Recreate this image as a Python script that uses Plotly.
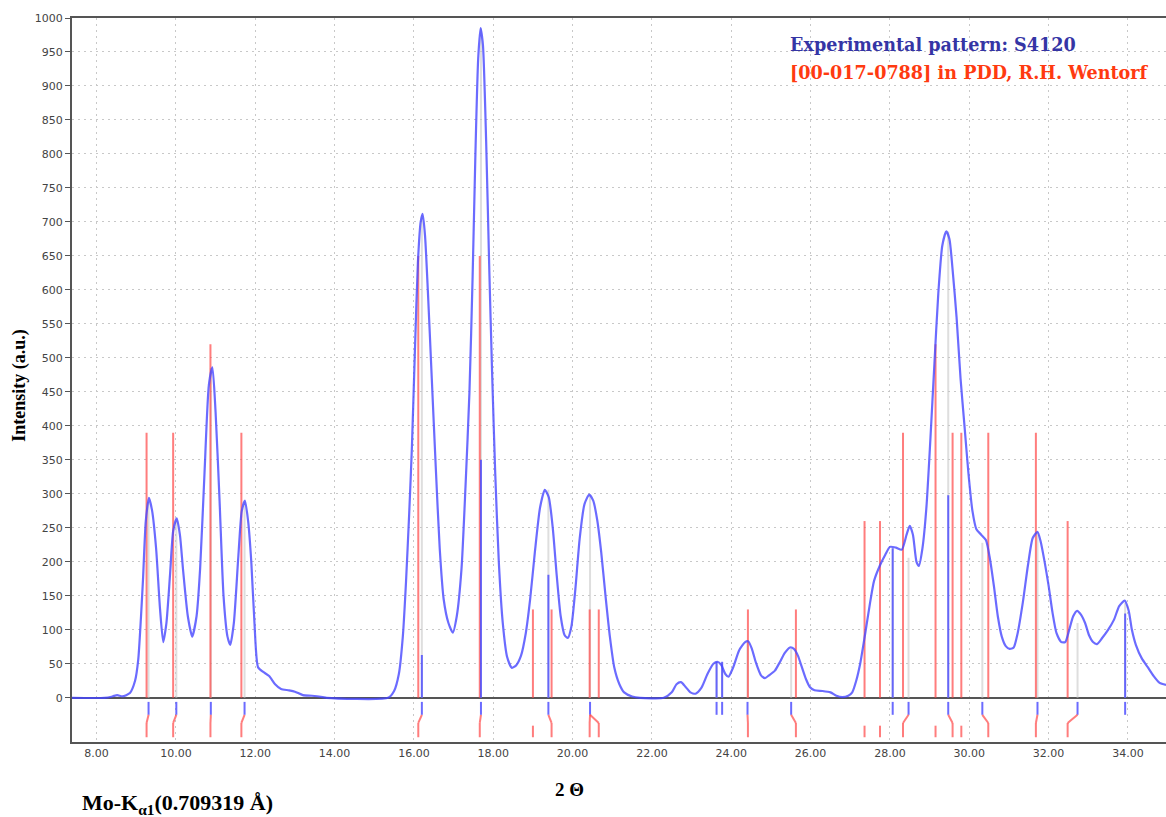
import plotly.graph_objects as go

# ---- experimental pattern (2-theta, intensity) ----
two_theta = [7.38, 8.2, 8.4, 8.52, 8.65, 8.84, 8.97, 9.05, 9.12, 9.17, 9.24, 9.32, 9.4, 9.5, 9.6, 9.68,
             9.76, 9.85, 9.93, 10.02, 10.1, 10.18, 10.3, 10.41, 10.52, 10.61, 10.72, 10.83, 10.92, 11.0,
             11.1, 11.2, 11.3, 11.37, 11.46, 11.57, 11.66, 11.74, 11.82, 11.9, 11.98, 12.07, 12.2, 12.35,
             12.5, 12.65, 12.85, 13.0, 13.2, 13.43, 13.7, 13.8, 15.35, 15.5, 15.62, 15.72, 15.8, 15.88,
             15.95, 16.03, 16.1, 16.17, 16.22, 16.28, 16.35, 16.45, 16.55, 16.65, 16.75, 16.87, 16.98,
             17.08, 17.2, 17.3, 17.4, 17.48, 17.55, 17.62, 17.68, 17.74, 17.82, 17.9, 17.97, 18.05, 18.14,
             18.24, 18.35, 18.47, 18.58, 18.7, 18.82, 18.93, 19.05, 19.18, 19.3, 19.4, 19.5, 19.6, 19.7,
             19.8, 19.88, 19.97, 20.07, 20.18, 20.3, 20.42, 20.52, 20.62, 20.72, 20.83, 20.94, 21.05,
             21.18, 21.3, 21.5, 21.7, 22.3, 22.5, 22.62, 22.73, 22.85, 22.97, 23.1, 23.25, 23.4, 23.55,
             23.65, 23.75, 23.85, 23.93, 24.05, 24.2, 24.35, 24.43, 24.52, 24.62, 24.75, 24.85, 24.95,
             25.1, 25.22, 25.35, 25.48, 25.58, 25.68, 25.78, 25.88, 25.98, 26.1, 26.3, 26.5, 26.65, 26.8,
             26.95, 27.05, 27.15, 27.25, 27.37, 27.5, 27.6, 27.75, 27.88, 28.0, 28.15, 28.3, 28.42, 28.5,
             28.58, 28.67, 28.73, 28.82, 28.92, 29.02, 29.12, 29.22, 29.32, 29.42, 29.5, 29.58, 29.68,
             29.78, 29.88, 29.98, 30.08, 30.18, 30.3, 30.42, 30.52, 30.62, 30.72, 30.82, 30.92, 31.02,
             31.12, 31.22, 31.35, 31.48, 31.6, 31.72, 31.8, 31.9, 32.0, 32.1, 32.2, 32.32, 32.42, 32.52,
             32.62, 32.72, 32.82, 32.92, 33.02, 33.12, 33.22, 33.35, 33.5, 33.65, 33.78, 33.92, 34.02,
             34.1, 34.2, 34.35, 34.5, 34.65, 34.8, 34.96]
intensity = [0, 0, 2, 4, 2, 7, 25, 56, 120, 174, 260, 294, 275, 220, 130, 82,
             110, 180, 245, 264, 240, 188, 120, 90, 120, 190, 330, 460, 486, 420,
             290, 150, 90, 78, 110, 205, 275, 290, 260, 200, 110, 45, 38, 32,
             20, 13, 11, 9, 4, 3, 1, 0, 0, 10, 35, 90, 170, 270,
             370, 520, 640, 700, 712, 680, 600, 470, 340, 220, 145, 110, 96,
             120, 190, 310, 450, 620, 800, 940, 985, 960, 820, 630, 480, 330, 200,
             110, 60, 44, 48, 62, 95, 145, 215, 280, 306, 295, 250, 180, 120,
             92, 88, 105, 160, 235, 285, 299, 290, 262, 215, 150, 90, 45,
             20, 8, 2, 0, 0, 8, 20, 23, 16, 8, 6, 15, 35, 50,
             53, 48, 35, 31, 45, 70, 82, 83, 72, 52, 33, 29, 33,
             40, 52, 66, 74, 72, 62, 45, 28, 16, 11, 10, 8, 3, 1,
             3, 8, 25, 50, 92, 140, 172, 195, 210, 222, 221, 218, 240, 253,
             240, 200, 194, 220, 280, 380, 490, 595, 665, 686, 675, 630, 560,
             470, 400, 330, 275, 248, 240, 232, 205, 165, 120, 90, 76, 72,
             74, 95, 140, 195, 235, 244, 230, 200, 165, 125, 95, 82, 82, 100,
             120, 128, 122, 110, 92, 82, 79, 88, 100, 115, 135, 143, 128,
             100, 78, 58, 45, 32, 22, 19]

# ---- reference lines [00-017-0788] ----
ref_pos = [9.26, 9.93, 10.87, 11.65, 16.11, 17.66, 19.0, 19.47, 20.43, 20.66, 24.42, 25.63, 27.36,
           27.75, 28.33, 29.15, 29.58, 29.8, 30.48, 31.68, 32.48]
ref_int = [390, 390, 520, 390, 650, 650, 130, 130, 130, 130, 130, 130, 260,
           260, 390, 520, 390, 390, 390, 390, 260]

# ---- experimental peak positions ----
peak_pos = [9.31, 10.01, 10.88, 11.73, 16.2, 17.69, 19.39, 20.44, 23.63, 23.77, 24.41, 25.51,
            28.07, 28.47, 29.47, 30.33, 31.72, 32.73, 33.93]
peak_grey = [288, 262, 485, 288, 710, 985, 306, 298, 52, 52, 82, 72,
             220, 206, 686, 228, 244, 110, 140]
# peaks drawn with a blue stick above zero
blue_pos = [16.2, 17.69, 19.39, 23.63, 23.77, 28.07, 29.47, 33.93]
blue_int = [63, 350, 181, 53, 53, 220, 298, 124]
# matching experimental peak -> reference line
match_exp = [9.31, 10.01, 10.88, 11.73, 16.2, 17.69, 19.39, 20.44, 20.44, 24.41, 25.51,
             28.47, 29.47, 30.33, 31.72, 32.73]
match_ref = [9.26, 9.93, 10.87, 11.65, 16.11, 17.66, 19.47, 20.43, 20.66, 24.42, 25.63,
             28.33, 29.58, 30.48, 31.68, 32.48]
unmatched_ref = [19.0, 27.36, 27.75, 29.15, 29.8]

x_ticks = [8, 10, 12, 14, 16, 18, 20, 22, 24, 26, 28, 30, 32, 34]
y_ticks = list(range(0, 1001, 50))

BLUE = "rgba(70,70,255,0.8)"
RED = "rgba(255,70,70,0.7)"
GREY = "rgba(200,200,200,0.6)"


def sticks(xs, y0s, y1s):
    X, Y = [], []
    for x, a, b in zip(xs, y0s, y1s):
        X += [x, x, None]
        Y += [a, b, None]
    return X, Y


def segs(x0s, y0s, x1s, y1s):
    X, Y = [], []
    for a, b, c, d in zip(x0s, y0s, x1s, y1s):
        X += [a, c, None]
        Y += [b, d, None]
    return X, Y


fig = go.Figure()

gx, gy = sticks(peak_pos, [0] * len(peak_pos), peak_grey)
fig.add_trace(go.Scatter(x=gx, y=gy, mode="lines", line=dict(color=GREY, width=2), hoverinfo="skip"))

rx, ry = sticks(ref_pos, [0] * len(ref_pos), ref_int)
fig.add_trace(go.Scatter(x=rx, y=ry, mode="lines", line=dict(color=RED, width=2), hoverinfo="skip"))

bx, by = sticks(blue_pos, [0] * len(blue_pos), blue_int)
fig.add_trace(go.Scatter(x=bx, y=by, mode="lines", line=dict(color=BLUE, width=2), hoverinfo="skip"))

# bottom markers
tbx, tby = sticks(peak_pos, [-6] * len(peak_pos), [-25] * len(peak_pos))
fig.add_trace(go.Scatter(x=tbx, y=tby, mode="lines", line=dict(color=BLUE, width=2), hoverinfo="skip"))

cx, cy = segs(match_exp, [-25] * len(match_exp), match_ref, [-37] * len(match_ref))
fig.add_trace(go.Scatter(x=cx, y=cy, mode="lines", line=dict(color=RED, width=2), hoverinfo="skip"))

trx, try_ = sticks(match_ref, [-37] * len(match_ref), [-58] * len(match_ref))
fig.add_trace(go.Scatter(x=trx, y=try_, mode="lines", line=dict(color=RED, width=2), hoverinfo="skip"))

ux, uy = sticks(unmatched_ref, [-41] * len(unmatched_ref), [-58] * len(unmatched_ref))
fig.add_trace(go.Scatter(x=ux, y=uy, mode="lines", line=dict(color=RED, width=2), hoverinfo="skip"))

fig.add_trace(go.Scatter(x=two_theta, y=intensity, mode="lines",
                         line=dict(color=BLUE, width=2.2, shape="spline", smoothing=0.6),
                         name="Experimental pattern: S4120"))

fig.update_layout(
    width=1166, height=817,
    margin=dict(l=72, r=0, t=18, b=75),
    paper_bgcolor="white", plot_bgcolor="white",
    showlegend=False,
    font=dict(family="DejaVu Sans", size=11, color="#444"),
    xaxis=dict(range=[7.38, 34.96], tickvals=x_ticks, ticktext=["%.2f" % v for v in x_ticks],
               showgrid=True, gridcolor="#c8c8c8", griddash="2px,4px", gridwidth=1,
               showline=True, linecolor="#555", linewidth=2, mirror=True,
               ticks="", zeroline=False, tickfont=dict(size=11, color="#444")),
    yaxis=dict(range=[-65, 1000], tickvals=y_ticks, ticktext=[str(v) for v in y_ticks],
               showgrid=True, gridcolor="#c8c8c8", griddash="2px,4px", gridwidth=1,
               showline=True, linecolor="#555", linewidth=2,
               ticks="outside", ticklen=5, tickcolor="#555",
               zeroline=True, zerolinecolor="#555", zerolinewidth=2,
               tickfont=dict(size=11, color="#444")),
    annotations=[
        dict(text="Intensity (a.u.)", textangle=-90, xref="paper", yref="paper",
             x=-0.0475, y=0.492, xanchor="center", yanchor="middle", showarrow=False,
             font=dict(family="Liberation Serif", size=18, color="black", weight="bold")),
        dict(text="2 Θ", xref="paper", yref="paper", x=0.455, y=-0.066,
             xanchor="center", yanchor="middle", showarrow=False,
             font=dict(family="Liberation Serif", size=19, color="black", weight="bold")),
        dict(text="Mo-K<sub>α1</sub>(0.709319 Å)", xref="paper", yref="paper", x=0.0073, y=-0.085,
             xanchor="left", yanchor="middle", showarrow=False,
             font=dict(family="Liberation Serif", size=22, color="black", weight="bold")),
        dict(text="Experimental pattern: S4120", xref="paper", yref="paper", x=0.6545, y=0.964,
             xanchor="left", yanchor="middle", showarrow=False,
             font=dict(family="DejaVu Serif", size=17.6, color="#3535a5", weight="bold")),
        dict(text="[00-017-0788] in PDD, R.H. Wentorf", xref="paper", yref="paper", x=0.6545, y=0.925,
             xanchor="left", yanchor="middle", showarrow=False,
             font=dict(family="DejaVu Serif", size=17.6, color="#ff3a10", weight="bold")),
    ],
)

fig.write_html("out.html")
